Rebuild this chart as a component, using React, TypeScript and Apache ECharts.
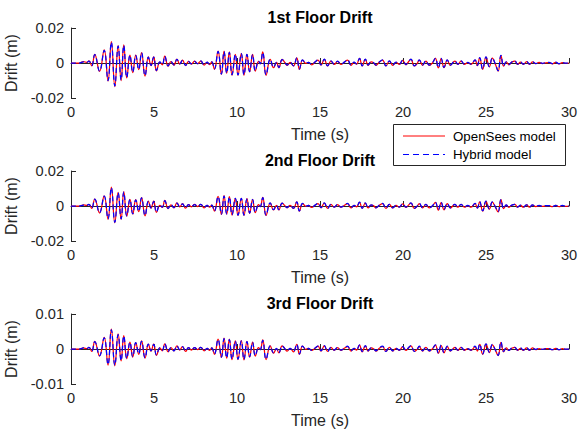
import React, { useEffect, useRef } from "react";
import * as echarts from "echarts";

// Sample times (s) of the response extremes, shared by all floors
const T = [
  0, 0.5, 0.75, 0.95, 1.08, 1.25, 1.43, 1.72, 2.0, 2.23,
  2.43, 2.64, 2.84, 3.02, 3.18, 3.36, 3.55, 3.72, 3.9, 4.08,
  4.25, 4.46, 4.66, 4.82, 4.98, 5.15, 5.35, 5.5, 5.65, 5.85,
  6.02, 6.2, 6.38, 6.55, 6.72, 6.9, 7.08, 7.25, 7.45, 7.62,
  7.82, 8.02, 8.2, 8.35, 8.48, 8.64, 8.86, 9.06, 9.22, 9.38,
  9.54, 9.7, 9.9, 10.06, 10.26, 10.42, 10.6, 10.76, 10.94, 11.1,
  11.3, 11.4, 11.55, 11.75, 12.0, 12.2, 12.38, 12.52, 12.72, 12.88,
  13.02, 13.2, 13.4, 13.6, 13.76, 13.95, 14.15, 14.3, 14.5, 14.7,
  14.88, 15.06, 15.26, 15.46, 15.66, 15.86, 16.06, 16.26, 16.46, 16.66,
  16.87, 17.05, 17.2, 17.38, 17.54, 17.73, 17.9, 18.08, 18.22, 18.37,
  18.57, 18.77, 18.97, 19.18, 19.38, 19.58, 19.78, 19.98, 20.18, 20.3,
  20.48, 20.68, 20.85, 20.98, 21.18, 21.38, 21.58, 21.78, 21.95, 22.13,
  22.3, 22.47, 22.67, 22.85, 23.13, 23.3, 23.5, 23.7, 23.9, 24.1,
  24.34, 24.48, 24.62, 24.8, 25.0, 25.2, 25.38, 25.56, 25.73, 25.9,
  26.06, 26.22, 26.38, 26.55, 26.74, 26.9, 27.08, 27.25, 27.45, 27.62,
  27.8, 28.0, 28.2, 28.4, 28.6, 28.8, 29.0, 29.2, 29.4, 29.6,
  29.8, 30.0,
];

// Drift values in mm
const opensees1 = [
  0, 0, 0.8, 0.3, 1.2, -1.6, 5.0, -4.8, 7.5, -10.3,
  12.2, -13.5, 10.0, -10.0, 10.3, -8.5, 4.5, -5.5, 4.5, -3.8,
  6.0, -7.5, 3.5, -1.5, 3.5, -4.5, 0.5, -1.0, 4.0, -1.8,
  0.8, -1.2, 2.2, -0.6, 1.6, -1.5, 1.0, -0.6, 1.1, -0.4,
  1.1, -1.2, 0.4, -0.9, 0.6, -3.6, 6.8, -6.5, 6.8, -5.9,
  6.3, -7.0, 5.0, -7.0, 5.5, -7.0, 5.0, -5.1, 5.0, -4.6,
  1.0, -0.5, 6.3, -7.0, 2.1, -2.7, 0.3, -2.7, 2.1, 0.3,
  -1.3, 0.3, -1.7, 3.0, -3.6, 1.7, -0.2, 0.3, -1.0, 0.5,
  1.7, -1.2, 2.1, -1.7, 1.1, -0.8, 1.0, -0.8, 0.4, 1.7,
  -1.3, 0.4, -0.6, 2.6, -1.7, 2.1, -1.3, 0.6, 0.2, -1.3,
  0.5, 1.7, -1.7, 1.1, -1.3, 0.4, -0.8, 1.5, -1.0, 0.3,
  2.1, -1.7, -0.3, 1.7, -1.3, 1.1, -1.3, 0.1, 2.6, -2.8,
  2.5, -2.7, 1.7, -1.3, 1.1, -0.8, 1.1, -0.8, 0.2, -0.8,
  1.7, -1.5, 3.0, -3.6, 3.4, -2.2, 2.8, -0.6, -4.6, 4.2,
  -1.8, 0.6, -1.0, 0.5, 1.1, -0.8, 0.5, -0.8, 0.8, -0.8,
  0.6, -0.4, 0.3, -0.3, 0.1, 0.2, -0.5, 0.4, -0.5, 0.2,
  -0.2, 0.0,
];
const hybrid1 = [
  0, 0, 0.7, 0.4, 1.1, -1.5, 4.8, -4.6, 7.2, -10.0,
  11.8, -13.0, 9.6, -9.7, 9.9, -8.2, 4.4, -5.3, 4.3, -3.7,
  5.8, -7.2, 3.4, -1.4, 3.4, -4.3, 0.6, -0.9, 3.8, -1.7,
  0.9, -1.1, 2.1, -0.5, 1.5, -1.4, 1.0, -0.5, 1.0, -0.4,
  1.2, -1.1, 0.5, -0.8, 0.6, -3.4, 6.6, -6.3, 6.5, -5.7,
  6.1, -6.7, 4.9, -6.8, 5.3, -6.7, 4.9, -4.9, 4.8, -4.4,
  1.1, -0.4, 6.0, -6.7, 2.2, -2.5, 0.4, -2.6, 2.0, 0.4,
  -1.2, 0.4, -1.6, 2.9, -3.4, 1.8, -0.1, 0.4, -0.9, 0.6,
  1.8, -1.1, 2.2, -1.6, 1.2, -0.7, 1.1, -0.7, 0.5, 1.8,
  -1.2, 0.5, -0.5, 2.7, -1.6, 2.2, -1.2, 0.7, 0.3, -1.2,
  0.6, 1.8, -1.6, 1.2, -1.2, 0.5, -0.7, 1.6, -0.9, 0.4,
  2.2, -1.6, -0.2, 1.8, -1.2, 1.2, -1.2, 0.2, 2.7, -2.6,
  2.6, -2.5, 1.8, -1.2, 1.2, -0.7, 1.2, -0.7, 0.3, -0.7,
  1.8, -1.4, 3.1, -3.4, 3.5, -2.1, 2.9, -0.5, -4.4, 4.4,
  -1.7, 0.7, -0.9, 0.6, 1.2, -0.7, 0.6, -0.7, 0.9, -0.7,
  0.7, -0.3, 0.4, -0.2, 0.2, 0.3, -0.4, 0.5, -0.4, 0.3,
  -0.1, 0.1,
];
const opensees2 = [
  0, 0, 0.6, 0.3, 1.0, -1.3, 4.0, -4.0, 5.8, -7.6,
  10.8, -9.6, 7.8, -7.6, 8.2, -5.8, 3.8, -4.6, 3.6, -3.2,
  4.8, -5.6, 2.8, -1.2, 2.8, -3.6, 0.4, -0.8, 3.2, -1.5,
  0.7, -1.0, 1.8, -0.5, 1.3, -1.2, 0.8, -0.5, 0.9, -0.3,
  0.9, -1.0, 0.3, -0.7, 0.5, -2.9, 5.5, -4.8, 5.9, -4.6,
  5.3, -5.2, 4.4, -5.4, 4.4, -5.4, 4.2, -4.2, 3.8, -3.8,
  0.8, -0.4, 5.0, -5.4, 1.7, -2.2, 0.3, -2.2, 1.7, 0.2,
  -1.0, 0.3, -1.4, 2.4, -2.9, 1.4, -0.2, 0.3, -0.8, 0.4,
  1.4, -1.0, 1.7, -1.4, 0.9, -0.7, 0.8, -0.7, 0.3, 1.4,
  -1.1, 0.3, -0.5, 2.1, -1.4, 1.7, -1.1, 0.5, 0.2, -1.1,
  0.4, 1.4, -1.4, 0.9, -1.1, 0.3, -0.7, 1.2, -0.8, 0.2,
  1.7, -1.4, -0.2, 1.4, -1.1, 0.9, -1.1, 0.1, 2.1, -2.3,
  2.0, -2.2, 1.4, -1.1, 0.9, -0.7, 0.9, -0.7, 0.2, -0.7,
  1.4, -1.2, 2.4, -2.9, 2.7, -1.8, 2.2, -0.5, -3.4, 3.6,
  -1.5, 0.5, -0.8, 0.4, 0.9, -0.7, 0.4, -0.7, 0.6, -0.7,
  0.5, -0.3, 0.2, -0.2, 0.1, 0.2, -0.4, 0.3, -0.4, 0.2,
  -0.2, 0.0,
];
const hybrid2 = [
  0, 0, 0.5, 0.3, 1.0, -1.2, 3.9, -3.8, 5.6, -7.3,
  10.4, -9.3, 7.5, -7.3, 7.9, -5.6, 3.7, -4.4, 3.5, -3.0,
  4.6, -5.4, 2.7, -1.1, 2.7, -3.5, 0.5, -0.7, 3.1, -1.4,
  0.8, -0.9, 1.7, -0.4, 1.2, -1.1, 0.8, -0.4, 0.8, -0.3,
  1.0, -0.9, 0.4, -0.7, 0.5, -2.8, 5.3, -4.6, 5.7, -4.5,
  5.1, -5.0, 4.3, -5.2, 4.3, -5.2, 4.0, -4.0, 3.7, -3.6,
  0.9, -0.3, 4.8, -5.2, 1.8, -2.1, 0.4, -2.1, 1.6, 0.3,
  -0.9, 0.4, -1.3, 2.3, -2.8, 1.5, -0.1, 0.3, -0.7, 0.5,
  1.5, -0.9, 1.8, -1.3, 1.0, -0.6, 0.9, -0.6, 0.4, 1.5,
  -1.0, 0.4, -0.4, 2.2, -1.3, 1.8, -1.0, 0.6, 0.2, -1.0,
  0.5, 1.5, -1.3, 1.0, -1.0, 0.4, -0.6, 1.3, -0.7, 0.3,
  1.8, -1.3, -0.1, 1.5, -1.0, 1.0, -1.0, 0.2, 2.2, -2.1,
  2.1, -2.0, 1.5, -1.0, 1.0, -0.6, 1.0, -0.6, 0.3, -0.6,
  1.5, -1.1, 2.5, -2.7, 2.8, -1.7, 2.3, -0.4, -3.2, 3.7,
  -1.4, 0.6, -0.7, 0.5, 1.0, -0.6, 0.5, -0.6, 0.7, -0.6,
  0.6, -0.2, 0.3, -0.1, 0.2, 0.2, -0.3, 0.4, -0.3, 0.3,
  -0.1, 0.0,
];
const opensees3 = [
  0, 0, 0.3, 0.1, 0.5, -0.7, 2.2, -2.0, 3.3, -4.6,
  5.7, -4.8, 4.3, -3.4, 3.8, -2.8, 2.0, -2.3, 1.8, -1.5,
  2.3, -2.6, 1.4, -0.6, 1.4, -1.8, 0.3, -0.5, 1.5, -0.8,
  0.4, -0.5, 0.9, -0.3, 0.7, -0.7, 0.4, -0.3, 0.4, -0.2,
  0.5, -0.5, 0.2, -0.4, 0.3, -1.5, 2.8, -2.4, 3.1, -2.6,
  2.8, -3.0, 2.3, -3.0, 2.4, -3.1, 2.2, -2.3, 2.0, -2.0,
  0.4, -0.2, 2.6, -3.0, 0.9, -1.2, 0.1, -1.1, 0.9, 0.1,
  -0.6, 0.2, -0.8, 1.3, -1.5, 0.8, -0.1, 0.2, -0.4, 0.2,
  0.8, -0.6, 0.9, -0.7, 0.5, -0.4, 0.4, -0.4, 0.2, 0.7,
  -0.6, 0.2, -0.3, 1.1, -0.8, 0.9, -0.6, 0.3, 0.1, -0.6,
  0.2, 0.7, -0.7, 0.5, -0.6, 0.2, -0.4, 0.6, -0.4, 0.1,
  0.9, -0.7, -0.1, 0.7, -0.6, 0.5, -0.6, 0.1, 1.1, -1.2,
  1.0, -1.1, 0.7, -0.6, 0.5, -0.4, 0.5, -0.4, 0.1, -0.4,
  0.7, -0.6, 1.3, -1.5, 1.4, -1.0, 1.2, -0.3, -1.9, 1.9,
  -0.8, 0.3, -0.4, 0.2, 0.5, -0.4, 0.2, -0.4, 0.3, -0.4,
  0.3, -0.2, 0.1, -0.1, 0.1, 0.1, -0.2, 0.2, -0.2, 0.1,
  -0.1, 0.0,
];
const hybrid3 = [
  0, 0, 0.3, 0.1, 0.5, -0.6, 2.1, -1.9, 3.2, -4.4,
  5.5, -4.6, 4.1, -3.3, 3.7, -2.7, 1.9, -2.2, 1.8, -1.4,
  2.2, -2.5, 1.4, -0.5, 1.3, -1.7, 0.3, -0.4, 1.5, -0.7,
  0.4, -0.5, 0.9, -0.2, 0.7, -0.6, 0.4, -0.2, 0.4, -0.2,
  0.5, -0.5, 0.2, -0.3, 0.3, -1.4, 2.7, -2.3, 3.0, -2.5,
  2.7, -2.9, 2.2, -2.9, 2.3, -3.0, 2.1, -2.2, 1.9, -1.9,
  0.4, -0.2, 2.5, -2.9, 0.9, -1.1, 0.2, -1.1, 0.9, 0.1,
  -0.5, 0.2, -0.7, 1.3, -1.4, 0.8, -0.1, 0.2, -0.4, 0.3,
  0.8, -0.5, 1.0, -0.7, 0.5, -0.3, 0.5, -0.3, 0.2, 0.8,
  -0.5, 0.2, -0.2, 1.2, -0.7, 1.0, -0.5, 0.3, 0.1, -0.5,
  0.3, 0.8, -0.7, 0.5, -0.5, 0.2, -0.3, 0.7, -0.4, 0.2,
  1.0, -0.7, -0.1, 0.8, -0.5, 0.5, -0.5, 0.1, 1.2, -1.1,
  1.1, -1.0, 0.8, -0.5, 0.5, -0.3, 0.5, -0.3, 0.1, -0.3,
  0.8, -0.5, 1.4, -1.4, 1.5, -0.9, 1.3, -0.2, -1.8, 2.0,
  -0.7, 0.3, -0.4, 0.3, 0.5, -0.3, 0.3, -0.3, 0.4, -0.3,
  0.3, -0.1, 0.2, -0.1, 0.1, 0.1, -0.2, 0.2, -0.2, 0.1,
  0.0, 0.0,
];

const titles = ["1st Floor Drift", "2nd Floor Drift", "3rd Floor Drift"];
const yLimits = [0.02, 0.02, 0.01];
const xTicks = [0, 5, 10, 15, 20, 25, 30];
const legendNames = ["OpenSees model", "Hybrid model"];

const FONT = "'Liberation Sans', Arial, Helvetica, sans-serif";
const INK = "#262626";

const toPairs = (vals: number[]) => T.map((t, i) => [t, vals[i] / 1000]);

export default function App() {
  const ref = useRef<HTMLDivElement>(null);

  useEffect(() => {
    if (!ref.current) return;
    const chart = echarts.init(ref.current, undefined, { renderer: "svg" });

    const tops = [28, 171, 314];
    const plotH = 70;
    const grids = tops.map((top) => ({
      left: 71,
      width: 498,
      top,
      height: plotH,
      containLabel: false,
      outerBoundsMode: "none",
    }));

    const xAxes = tops.map((_, i) => ({
      type: "value",
      gridIndex: i,
      min: xTicks[0],
      max: xTicks[xTicks.length - 1],
      interval: 5,
      axisLine: { show: true, lineStyle: { color: INK, width: 1 } },
      axisTick: { show: true, inside: true, length: 5, lineStyle: { color: INK } },
      splitLine: { show: false },
      axisLabel: { color: INK, fontSize: 14.6, fontFamily: FONT, margin: 6 },
      name: "Time (s)",
      nameLocation: "middle",
      nameGap: 28,
      nameTextStyle: { color: INK, fontSize: 16, fontFamily: FONT },
    }));

    const yAxes = tops.map((_, i) => ({
      type: "value",
      gridIndex: i,
      min: -yLimits[i],
      max: yLimits[i],
      interval: yLimits[i],
      axisLine: { show: true, lineStyle: { color: INK, width: 1 } },
      axisTick: { show: true, inside: true, length: 5, lineStyle: { color: INK } },
      splitLine: { show: false },
      axisLabel: { color: INK, fontSize: 14.6, fontFamily: FONT, margin: 7 },
      name: "Drift (m)",
      nameLocation: "middle",
      nameGap: 42,
      nameTextStyle: { color: INK, fontSize: 16, fontFamily: FONT },
    }));

    const floors = [
      [opensees1, hybrid1],
      [opensees2, hybrid2],
      [opensees3, hybrid3],
    ];

    const series: any[] = [];
    floors.forEach(([os, hy], i) => {
      series.push({
        type: "line",
        name: legendNames[0],
        xAxisIndex: i,
        yAxisIndex: i,
        data: toPairs(os),
        smooth: 0.45,
        symbol: "none",
        lineStyle: { color: "#ff0000", width: 1.25 },
        z: 2,
      });
      series.push({
        type: "line",
        name: legendNames[1],
        xAxisIndex: i,
        yAxisIndex: i,
        data: toPairs(hy),
        smooth: 0.45,
        symbol: "none",
        lineStyle: { color: "#0000ff", width: 1.25, type: [5, 3] },
        z: 3,
      });
    });

    const title = titles.map((text, i) => ({
      text,
      left: 320,
      top: tops[i] - 19,
      textAlign: "center",
      padding: 0,
      textStyle: { color: "#000", fontSize: 16, fontWeight: "bold", fontFamily: FONT },
    }));

    const graphic = [
      {
        type: "rect",
        shape: { x: 393.5, y: 124.5, width: 172, height: 41 },
        style: { fill: "#fff", stroke: INK, lineWidth: 1 },
        z: 10,
      },
      {
        type: "line",
        shape: { x1: 403, y1: 136, x2: 445, y2: 136 },
        style: { stroke: "#ff0000", lineWidth: 1 },
        z: 11,
      },
      {
        type: "text",
        x: 453,
        y: 136,
        style: {
          text: legendNames[0],
          fill: "#000",
          fontSize: 13.3,
          fontFamily: FONT,
          verticalAlign: "middle",
        },
        z: 11,
      },
      {
        type: "line",
        shape: { x1: 403, y1: 154.5, x2: 445, y2: 154.5 },
        style: { stroke: "#0000ff", lineWidth: 1, lineDash: [6, 4] },
        z: 11,
      },
      {
        type: "text",
        x: 453,
        y: 154.5,
        style: {
          text: legendNames[1],
          fill: "#000",
          fontSize: 13.3,
          fontFamily: FONT,
          verticalAlign: "middle",
        },
        z: 11,
      },
    ];

    chart.setOption({
      animation: false,
      backgroundColor: "#fff",
      title,
      grid: grids,
      xAxis: xAxes,
      yAxis: yAxes,
      series,
      graphic,
    });

    return () => chart.dispose();
  }, []);

  return (
    <div
      ref={ref}
      style={{ position: "fixed", left: 0, top: 0, width: 578, height: 439, background: "#fff" }}
    />
  );
}
